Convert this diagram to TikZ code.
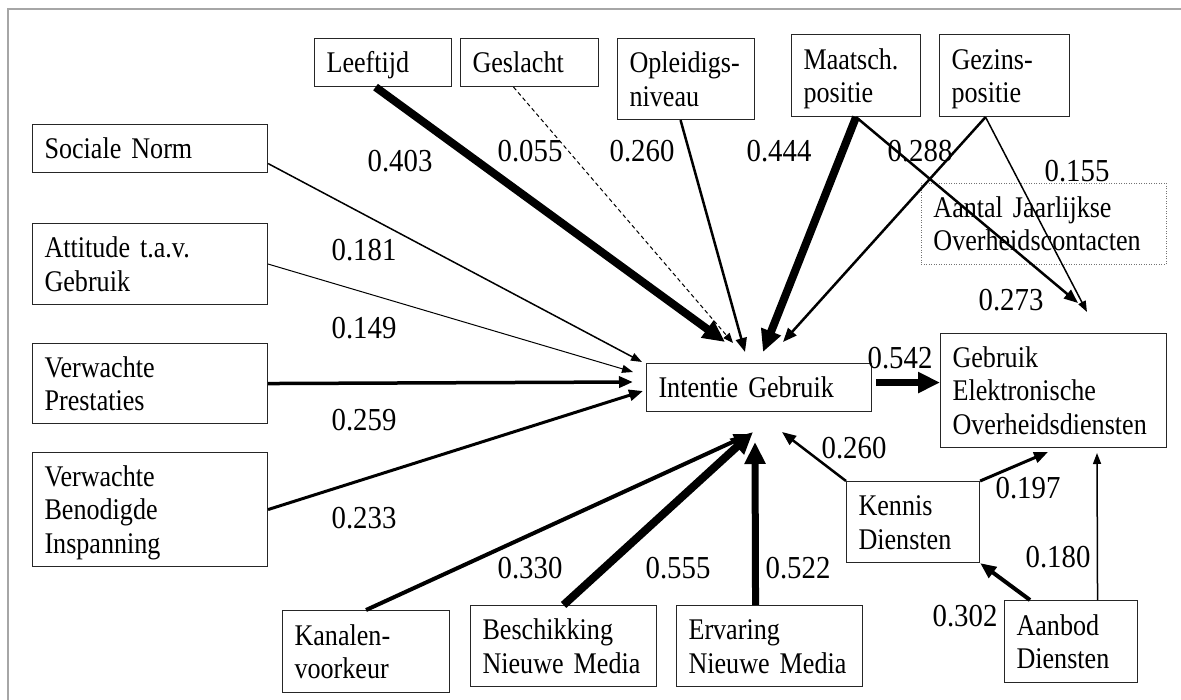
\documentclass[tikz,border=0pt]{standalone}
\usepackage{fontspec}
\setmainfont{Liberation Serif}
\newfontfamily\boxfont{Liberation Serif}[FakeStretch=0.87]
\newfontfamily\labfont{Liberation Serif}[FakeStretch=0.9]
\usetikzlibrary{arrows.meta}
\newcommand{\bs}{\rule[-6.5pt]{0pt}{33.5pt}}
\tikzset{
  box/.style={draw=black!85, line width=1.1pt, anchor=north west, inner xsep=12pt, inner ysep=0pt,
    align=left, font=\boxfont\fontsize{30}{33.5}\selectfont},
  dotbox/.style={box, draw=black!55, line width=0.8pt, dash pattern=on 1pt off 1.5pt},
  lab/.style={font=\labfont\fontsize{32}{36}\selectfont, inner sep=0pt},
  thinar/.style={line width=1.2pt, -{Triangle[length=11pt,width=8pt]}},
  medar/.style={line width=2.5pt, -{Triangle[length=14pt,width=11pt]}},
  thickar/.style={line width=8pt, -{Triangle[length=22pt,width=20pt]}},
  frame/.style={draw=black!35, line width=1.2pt}
}
\begin{document}
\begin{tikzpicture}[x=1pt,y=-1pt]
\useasboundingbox (0,0) rectangle (1181,700);
\draw[frame] (1181,9) -- (8,9) -- (8,700);

% boxes
\node[box, minimum width=137, text width=113, minimum height=48] (lee) at (314,38) {\bs Leeftijd};
\node[box, minimum width=138, text width=114, minimum height=48] (ges) at (460,38) {\bs Geslacht};
\node[box, minimum width=137, text width=113, minimum height=81] (opl) at (617,38) {\bs Opleidigs-\\\bs niveau};
\node[box, minimum width=129, text width=105, minimum height=82] (maa) at (791,34) {\bs Maatsch.\\\bs positie};
\node[box, minimum width=130, text width=106, minimum height=82] (gez) at (939,34) {\bs Gezins-\\\bs positie};
\node[box, minimum width=235, text width=211, minimum height=48] (soc) at (32,124) {\bs Sociale Norm};
\node[box, minimum width=235, text width=211, minimum height=81] (att) at (32,223) {\bs Attitude t.a.v.\\\bs Gebruik};
\node[box, minimum width=235, text width=211, minimum height=80] (pre) at (32,343) {\bs Verwachte\\\bs Prestaties};
\node[box, minimum width=235, text width=211, minimum height=114] (ben) at (32,452) {\bs Verwachte\\\bs Benodigde\\\bs Inspanning};
\node[dotbox, minimum width=245, text width=221, minimum height=81] (aan) at (921,183) {\bs Aantal Jaarlijkse\\\bs Overheidscontacten};
\node[box, minimum width=225, text width=201, minimum height=48] (int) at (646,363) {\bs Intentie Gebruik};
\node[box, minimum width=226, text width=202, minimum height=114] (geb) at (940,333) {\bs Gebruik\\\bs Elektronische\\\bs Overheidsdiensten};
\node[box, minimum width=133, text width=109, minimum height=81] (ken) at (846,481) {\bs Kennis\\\bs Diensten};
\node[box, minimum width=133, text width=109, minimum height=82] (abd) at (1004,600) {\bs Aanbod\\\bs Diensten};
\node[box, minimum width=167, text width=143, minimum height=82] (kan) at (282,610) {\bs Kanalen-\\\bs voorkeur};
\node[box, minimum width=186, text width=162, minimum height=81] (bes) at (470,605) {\bs Beschikking\\\bs Nieuwe Media};
\node[box, minimum width=186, text width=162, minimum height=81] (erv) at (676,605) {\bs Ervaring\\\bs Nieuwe Media};

% free arrow ends
\coordinate (tLee) at (725,342);
\coordinate (tGes) at (733,343);
\coordinate (tOpl) at (745,352);
\coordinate (tMaa) at (763,352);
\coordinate (tGez) at (783,342);
\coordinate (tMaa2) at (1078,303);
\coordinate (tGez2) at (1087,312);
\coordinate (tSoc) at (642,362);
\coordinate (tAtt) at (633,372);
\coordinate (tPre) at (633,382);
\coordinate (tBen) at (643,391);
\coordinate (tKan) at (750,434);
\coordinate (tBes) at (753,432);
\coordinate (tErv) at (755,442);
\coordinate (tKen) at (782,432);
\coordinate (tKG) at (1048,452);
\coordinate (tAG) at (1097,453);

% connectors
\draw[thickar] ([xshift=-7.5pt]lee.south) -- (tLee);
\draw[line width=1pt, dash pattern=on 4pt off 3pt, -{Triangle[length=10pt,width=8pt]}] ([xshift=-16pt]ges.south) -- (tGes);
\draw[medar] ([xshift=-5.5pt]opl.south) -- (tOpl);
\draw[thickar] (maa.south) -- (tMaa);
\draw[medar] (maa.south) -- (tMaa2);
\draw[medar] ([xshift=-19pt]gez.south) -- (tGez);
\draw[thinar, line width=1.5pt] ([xshift=-19pt]gez.south) -- (tGez2);
\draw[thinar, line width=1.5pt] ([yshift=-15pt]soc.east) -- (tSoc);
\draw[thinar, line width=1pt] (att.east) -- (tAtt);
\draw[medar, line width=3.5pt] (pre.east) -- (tPre);
\draw[medar, line width=3pt] (ben.east) -- (tBen);
\draw[medar, line width=4pt, -{Triangle[length=16pt,width=13pt]}] (kan.north) -- (tKan);
\draw[thickar] (bes.north) -- (tBes);
\draw[thickar, line width=7pt] ([xshift=-14pt]erv.north) -- (tErv);
\draw[thickar, line width=7pt] ([shift={(4pt,5pt)}]int.east) -- ([yshift=8pt]geb.west);
\draw[medar] (ken.north west) -- (tKen);
\draw[medar, line width=3pt] (ken.north east) -- (tKG);
\draw[medar, line width=4pt, -{Triangle[length=16pt,width=13pt]}] ([xshift=26pt]abd.north west) -- (ken.south east);
\draw[thinar, line width=1.5pt] ([xshift=26.5pt]abd.north) -- (tAG);

% labels
\node[lab] (l403) at (400,161) {0.403};
\node[lab] (l055) at (530,151) {0.055};
\node[lab] (l260a) at (642,151) {0.260};
\node[lab] (l444) at (779,151) {0.444};
\node[lab] (l288) at (920,151) {0.288};
\node[lab] (l155) at (1077,171) {0.155};
\node[lab] (l273) at (1011,300) {0.273};
\node[lab] (l181) at (364,250) {0.181};
\node[lab] (l149) at (364,328) {0.149};
\node[lab] (l259) at (364,420) {0.259};
\node[lab] (l233) at (364,518) {0.233};
\node[lab] (l330) at (530,568) {0.330};
\node[lab] (l555) at (678,568) {0.555};
\node[lab] (l522) at (798,568) {0.522};
\node[lab] (l542) at (900,358) {0.542};
\node[lab] (l260b) at (854,448) {0.260};
\node[lab] (l197) at (1028,488) {0.197};
\node[lab] (l180) at (1058,557) {0.180};
\node[lab] (l302) at (965,616) {0.302};
\end{tikzpicture}
\end{document}
